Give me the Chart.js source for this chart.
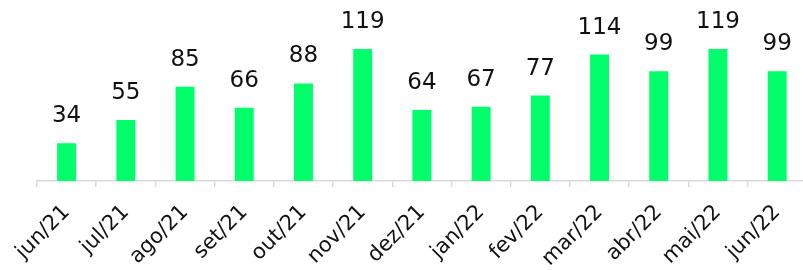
<!DOCTYPE html>
<html><head><meta charset="utf-8">
<script src="https://cdn.jsdelivr.net/npm/chart.js@4/dist/chart.umd.min.js"></script>
<style>
html,body{margin:0;padding:0;background:#fff;overflow:hidden;}
#wrap{width:808px;height:270px;position:relative;}
</style></head>
<body>
<div id="wrap"><canvas id="c"></canvas></div>
<script>
const categories = ['jun/21','jul/21','ago/21','set/21','out/21','nov/21','dez/21','jan/22','fev/22','mar/22','abr/22','mai/22','jun/22'];
const values = [34,55,85,66,88,119,64,67,77,114,99,119,99];

const FONT = '"DejaVu Sans", sans-serif';
const labelPlugin = {
  id:'valueLabels',
  afterDatasetsDraw(chart){
    const ctx = chart.ctx;
    const meta = chart.getDatasetMeta(0);
    ctx.save();
    ctx.font = '23px ' + FONT;
    ctx.fillStyle = '#111';
    ctx.textAlign = 'center';
    ctx.textBaseline = 'alphabetic';
    meta.data.forEach((bar,i)=>{
      ctx.fillText(String(chart.data.datasets[0].data[i]), bar.x, bar.y - 21);
    });
    ctx.restore();
  }
};

new Chart(document.getElementById('c'), {
  type:'bar',
  data:{labels:categories, datasets:[{data:values, backgroundColor:'#00ff6a', borderWidth:0, barPercentage:0.64, categoryPercentage:0.5}]},
  options:{
    responsive:true, maintainAspectRatio:false, animation:false,
    layout:{padding:{left:37,right:0,top:0,bottom:0}},
    plugins:{legend:{display:false}, tooltip:{enabled:false}},
    scales:{
      x:{
        afterFit(s){ s.height = 89; },
        grid:{offset:true, drawOnChartArea:false, drawTicks:true, tickLength:6, color:'#d9d9d9', lineWidth:1.5},
        border:{color:'#d9d9d9', width:1.5},
        ticks:{color:'#111', font:{family:FONT, size:21}, maxRotation:45, minRotation:45, padding:13, autoSkip:false}
      },
      y:{display:false, min:0, max:163.2}
    }
  },
  plugins:[labelPlugin]
});
</script>
</body></html>
